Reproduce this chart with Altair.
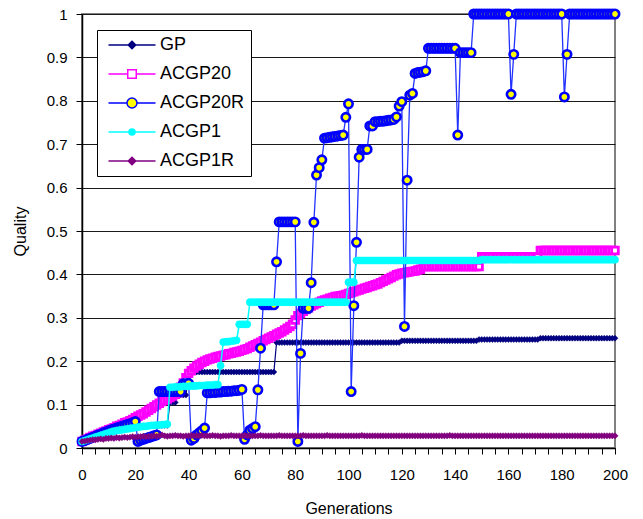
import altair as alt
import pandas as pd

generations = list(range(201))

series_names = ["GP", "ACGP20", "ACGP20R", "ACGP1", "ACGP1R"]

gp = [
    0.015, 0.018, 0.020, 0.022, 0.025, 0.027, 0.030, 0.032, 0.034, 0.036,
    0.038, 0.040, 0.042, 0.044, 0.046, 0.047, 0.048, 0.049, 0.050, 0.050,
    0.050, 0.050, 0.050, 0.050, 0.050, 0.051, 0.051, 0.051, 0.051, 0.052,
    0.052, 0.052, 0.052, 0.105, 0.105, 0.105, 0.122, 0.122, 0.122, 0.122,
    0.175, 0.175, 0.175, 0.175, 0.175, 0.175, 0.175, 0.175, 0.175, 0.175,
    0.175, 0.175, 0.175, 0.175, 0.175, 0.175, 0.175, 0.175, 0.175, 0.175,
    0.175, 0.175, 0.175, 0.175, 0.175, 0.175, 0.175, 0.175, 0.175, 0.175,
    0.175, 0.175, 0.175, 0.243, 0.243, 0.243, 0.243, 0.243, 0.243, 0.243,
    0.243, 0.243, 0.243, 0.243, 0.243, 0.243, 0.243, 0.243, 0.243, 0.243,
    0.243, 0.243, 0.243, 0.243, 0.243, 0.243, 0.243, 0.243, 0.243, 0.243,
    0.243, 0.243, 0.243, 0.243, 0.243, 0.243, 0.243, 0.243, 0.243, 0.243,
    0.243, 0.243, 0.243, 0.243, 0.243, 0.243, 0.243, 0.243, 0.243, 0.243,
    0.247, 0.247, 0.247, 0.247, 0.247, 0.247, 0.247, 0.247, 0.247, 0.247,
    0.247, 0.247, 0.247, 0.247, 0.247, 0.247, 0.247, 0.247, 0.247, 0.247,
    0.247, 0.247, 0.247, 0.247, 0.247, 0.247, 0.247, 0.247, 0.247, 0.250,
    0.250, 0.250, 0.250, 0.250, 0.250, 0.250, 0.250, 0.250, 0.250, 0.250,
    0.250, 0.250, 0.250, 0.250, 0.250, 0.250, 0.250, 0.250, 0.250, 0.250,
    0.250, 0.250, 0.253, 0.253, 0.253, 0.253, 0.253, 0.253, 0.253, 0.253,
    0.253, 0.253, 0.253, 0.253, 0.253, 0.253, 0.253, 0.253, 0.253, 0.253,
    0.253, 0.253, 0.253, 0.253, 0.253, 0.253, 0.253, 0.253, 0.253, 0.253,
    0.253,
]

acgp20 = [
    0.015, 0.018, 0.021, 0.024, 0.027, 0.029, 0.032, 0.034, 0.037, 0.039,
    0.042, 0.044, 0.047, 0.050, 0.052, 0.055, 0.058, 0.060, 0.063, 0.066,
    0.070, 0.073, 0.076, 0.079, 0.083, 0.087, 0.091, 0.095, 0.099, 0.103,
    0.107, 0.110, 0.113, 0.116, 0.120, 0.124, 0.128, 0.140, 0.150, 0.162,
    0.172, 0.178, 0.184, 0.189, 0.193, 0.197, 0.200, 0.203, 0.205, 0.207,
    0.209, 0.211, 0.212, 0.214, 0.215, 0.217, 0.218, 0.220, 0.221, 0.223,
    0.225, 0.227, 0.229, 0.232, 0.235, 0.238, 0.241, 0.244, 0.247, 0.250,
    0.253, 0.256, 0.259, 0.262, 0.265, 0.268, 0.272, 0.276, 0.280, 0.285,
    0.295, 0.305, 0.310, 0.315, 0.319, 0.323, 0.327, 0.330, 0.333, 0.336,
    0.339, 0.341, 0.343, 0.345, 0.347, 0.349, 0.350, 0.351, 0.352, 0.354,
    0.356, 0.358, 0.360, 0.362, 0.364, 0.366, 0.368, 0.370, 0.372, 0.374,
    0.376, 0.378, 0.381, 0.384, 0.387, 0.390, 0.393, 0.396, 0.399, 0.401,
    0.403, 0.404, 0.405, 0.406, 0.407, 0.408, 0.410, 0.412, 0.418, 0.418,
    0.418, 0.418, 0.418, 0.418, 0.418, 0.418, 0.418, 0.418, 0.418, 0.418,
    0.418, 0.418, 0.418, 0.418, 0.418, 0.418, 0.418, 0.418, 0.418, 0.418,
    0.441, 0.441, 0.441, 0.441, 0.441, 0.441, 0.441, 0.441, 0.441, 0.441,
    0.441, 0.441, 0.441, 0.441, 0.441, 0.441, 0.441, 0.441, 0.441, 0.441,
    0.441, 0.441, 0.455, 0.455, 0.455, 0.455, 0.455, 0.455, 0.455, 0.455,
    0.455, 0.455, 0.455, 0.455, 0.455, 0.455, 0.455, 0.455, 0.455, 0.455,
    0.455, 0.455, 0.455, 0.455, 0.455, 0.455, 0.455, 0.455, 0.455, 0.455,
    0.455,
]

acgp20r = [
    0.015, 0.017, 0.020, 0.022, 0.025, 0.027, 0.030, 0.032, 0.035, 0.037,
    0.040, 0.042, 0.044, 0.046, 0.048, 0.050, 0.052, 0.054, 0.056, 0.058,
    0.061, 0.015, 0.018, 0.020, 0.022, 0.024, 0.026, 0.028, 0.030, 0.130,
    0.130, 0.130, 0.130, 0.130, 0.130, 0.130, 0.130, 0.130, 0.148, 0.148,
    0.149, 0.018, 0.022, 0.030, 0.035, 0.040, 0.046, 0.127, 0.127, 0.128,
    0.128, 0.129, 0.129, 0.130, 0.130, 0.131, 0.131, 0.132, 0.132, 0.133,
    0.135, 0.020, 0.030, 0.041, 0.045, 0.049, 0.134, 0.230, 0.330, 0.330,
    0.330, 0.330, 0.330, 0.429, 0.521, 0.521, 0.521, 0.521, 0.521, 0.521,
    0.521, 0.015, 0.218, 0.322, 0.322, 0.322, 0.381, 0.520, 0.629, 0.646,
    0.664, 0.714, 0.715, 0.716, 0.717, 0.718, 0.719, 0.720, 0.721, 0.762,
    0.793, 0.130, 0.328, 0.474, 0.670, 0.688, 0.688, 0.688, 0.742, 0.742,
    0.752, 0.752, 0.753, 0.753, 0.754, 0.755, 0.756, 0.757, 0.763, 0.788,
    0.798, 0.280, 0.617, 0.813, 0.817, 0.863, 0.865, 0.866, 0.867, 0.869,
    0.921, 0.921, 0.921, 0.921, 0.921, 0.921, 0.921, 0.921, 0.921, 0.921,
    0.921, 0.721, 0.911, 0.911, 0.911, 0.911, 0.911, 1.000, 1.000, 1.000,
    1.000, 1.000, 1.000, 1.000, 1.000, 1.000, 1.000, 1.000, 1.000, 1.000,
    1.000, 0.815, 0.907, 1.000, 1.000, 1.000, 1.000, 1.000, 1.000, 1.000,
    1.000, 1.000, 1.000, 1.000, 1.000, 1.000, 1.000, 1.000, 1.000, 1.000,
    1.000, 0.809, 0.907, 1.000, 1.000, 1.000, 1.000, 1.000, 1.000, 1.000,
    1.000, 1.000, 1.000, 1.000, 1.000, 1.000, 1.000, 1.000, 1.000, 1.000,
    1.000,
]

acgp1 = [
    0.015, 0.017, 0.019, 0.021, 0.023, 0.025, 0.027, 0.029, 0.031, 0.033,
    0.035, 0.037, 0.039, 0.040, 0.041, 0.042, 0.043, 0.044, 0.045, 0.046,
    0.047, 0.048, 0.049, 0.050, 0.050, 0.051, 0.052, 0.052, 0.053, 0.053,
    0.054, 0.054, 0.055, 0.140, 0.140, 0.141, 0.141, 0.141, 0.142, 0.142,
    0.142, 0.143, 0.143, 0.143, 0.144, 0.144, 0.144, 0.145, 0.145, 0.145,
    0.146, 0.146, 0.190, 0.244, 0.245, 0.245, 0.246, 0.247, 0.248, 0.285,
    0.285, 0.285, 0.285, 0.336, 0.336, 0.336, 0.336, 0.336, 0.336, 0.336,
    0.336, 0.336, 0.336, 0.336, 0.336, 0.336, 0.336, 0.336, 0.336, 0.336,
    0.336, 0.336, 0.336, 0.336, 0.336, 0.336, 0.336, 0.336, 0.336, 0.336,
    0.336, 0.336, 0.336, 0.336, 0.336, 0.336, 0.336, 0.336, 0.336, 0.336,
    0.382, 0.382, 0.382, 0.432, 0.432, 0.432, 0.432, 0.432, 0.432, 0.432,
    0.432, 0.432, 0.432, 0.432, 0.432, 0.432, 0.432, 0.432, 0.432, 0.432,
    0.432, 0.432, 0.432, 0.432, 0.432, 0.432, 0.432, 0.432, 0.432, 0.432,
    0.432, 0.432, 0.432, 0.432, 0.432, 0.432, 0.432, 0.432, 0.432, 0.432,
    0.432, 0.432, 0.432, 0.432, 0.432, 0.432, 0.432, 0.432, 0.432, 0.432,
    0.434, 0.434, 0.434, 0.434, 0.434, 0.434, 0.434, 0.434, 0.434, 0.434,
    0.434, 0.434, 0.434, 0.434, 0.434, 0.434, 0.434, 0.434, 0.434, 0.434,
    0.434, 0.434, 0.434, 0.434, 0.434, 0.434, 0.434, 0.434, 0.434, 0.434,
    0.434, 0.434, 0.434, 0.434, 0.434, 0.434, 0.434, 0.434, 0.434, 0.434,
    0.434, 0.434, 0.434, 0.434, 0.434, 0.434, 0.434, 0.434, 0.434, 0.434,
    0.434,
]

acgp1r = [
    0.015, 0.016, 0.017, 0.018, 0.019, 0.019, 0.020, 0.021, 0.020, 0.022,
    0.022, 0.023, 0.022, 0.024, 0.023, 0.024, 0.025, 0.024, 0.025, 0.026,
    0.025, 0.026, 0.026, 0.027, 0.026, 0.027, 0.027, 0.028, 0.027, 0.028,
    0.030, 0.028, 0.027, 0.028, 0.028, 0.029, 0.028, 0.028, 0.027, 0.028,
    0.028, 0.029, 0.028, 0.028, 0.028, 0.029, 0.028, 0.028, 0.028, 0.029,
    0.028, 0.028, 0.027, 0.028, 0.028, 0.028, 0.029, 0.028, 0.028, 0.028,
    0.028, 0.029, 0.028, 0.028, 0.028, 0.028, 0.028, 0.029, 0.028, 0.028,
    0.028, 0.028, 0.028, 0.028, 0.029, 0.028, 0.028, 0.028, 0.028, 0.028,
    0.028, 0.028, 0.028, 0.029, 0.028, 0.028, 0.028, 0.028, 0.028, 0.028,
    0.028, 0.028, 0.029, 0.028, 0.028, 0.028, 0.028, 0.028, 0.028, 0.028,
    0.028, 0.028, 0.028, 0.028, 0.028, 0.029, 0.028, 0.028, 0.028, 0.028,
    0.028, 0.028, 0.028, 0.028, 0.028, 0.028, 0.028, 0.028, 0.028, 0.028,
    0.028, 0.028, 0.028, 0.028, 0.028, 0.028, 0.028, 0.028, 0.028, 0.028,
    0.028, 0.028, 0.028, 0.028, 0.028, 0.028, 0.028, 0.028, 0.029, 0.028,
    0.028, 0.028, 0.028, 0.028, 0.028, 0.028, 0.028, 0.028, 0.028, 0.028,
    0.028, 0.028, 0.028, 0.028, 0.028, 0.028, 0.028, 0.028, 0.028, 0.028,
    0.028, 0.028, 0.028, 0.028, 0.028, 0.028, 0.028, 0.028, 0.028, 0.028,
    0.028, 0.028, 0.028, 0.028, 0.028, 0.028, 0.028, 0.028, 0.028, 0.028,
    0.028, 0.028, 0.028, 0.028, 0.028, 0.028, 0.028, 0.028, 0.028, 0.028,
    0.028, 0.028, 0.028, 0.028, 0.028, 0.028, 0.028, 0.028, 0.028, 0.028,
    0.028,
]

y_ticks = [0, 0.1, 0.2, 0.3, 0.4, 0.5, 0.6, 0.7, 0.8, 0.9, 1]
x_ticks = list(range(0, 201, 5))

all_values = [gp, acgp20, acgp20r, acgp1, acgp1r]
df = pd.concat(
    [pd.DataFrame({"gen": generations, "value": vals, "series": name})
     for name, vals in zip(series_names, all_values)],
    ignore_index=True,
)

FONT = "Liberation Sans"

X = alt.X(
    "gen:Q",
    scale=alt.Scale(domain=[0, 200], nice=False, zero=False),
    axis=alt.Axis(
        values=x_ticks,
        labelExpr="datum.value % 20 == 0 ? datum.label : ''",
        title="Generations", grid=False, tickSize=6, labelPadding=13,
        labelFontSize=15, labelOverlap=False, labelFlush=False,
        domainColor="black", tickColor="black", labelColor="black",
        domainWidth=1.5, titleFontSize=16, titleFontWeight="normal",
        titleColor="black", titleX=266.5, titleY=60,
        titleBaseline="middle", titleAlign="center",
    ),
)
Y = alt.Y(
    "value:Q",
    scale=alt.Scale(domain=[0, 1], nice=False),
    axis=alt.Axis(
        values=y_ticks, format="~g", title="Quality", grid=True,
        gridColor="#1a1a1a", gridWidth=1, tickSize=6, labelPadding=9,
        labelFontSize=15, domainColor="black", tickColor="black",
        labelColor="black", domainWidth=1.5, titleFontSize=16,
        titleFontWeight="normal", titleColor="black", titleX=-62,
        titleY=217, titleAngle=270, titleBaseline="middle",
        titleAlign="center",
    ),
)

base = alt.Chart(df).encode(x=X, y=Y)

styles = {
    "GP": dict(line="#000080", lw=1.2, shape="diamond", size=36,
               fill="#000080", stroke="#000080", sw=0.5),
    "ACGP20": dict(line="#FF00FF", lw=1.5, shape="square", size=44,
                   fill="#FFFFFF", stroke="#FF00FF", sw=2.8),
    "ACGP20R": dict(line="#2233FF", lw=1.3, shape="circle", size=70,
                    fill="#FFFF00", stroke="#0000FF", sw=2.6),
    "ACGP1": dict(line="#00FFFF", lw=1.5, shape="circle", size=52,
                  fill="#00FFFF", stroke="#00FFFF", sw=0.5),
    "ACGP1R": dict(line="#800080", lw=1.2, shape="diamond", size=40,
                   fill="#800080", stroke="#800080", sw=0.5),
}

layers = []
for name in series_names:
    s = styles[name]
    sub = base.transform_filter(alt.datum.series == name)
    layers.append(sub.mark_line(color=s["line"], strokeWidth=s["lw"]))
    layers.append(sub.mark_point(shape=s["shape"], size=s["size"], filled=True,
                                 fill=s["fill"], stroke=s["stroke"],
                                 strokeWidth=s["sw"], opacity=1))

legend_paths = [
    "M-4.7,0H4.7M0,-0.75L0.75,0L0,0.75L-0.75,0Z",
    "M-4.7,0H-0.85M0.85,0H4.7M-0.85,-0.85H0.85V0.85H-0.85Z",
    "M-4.7,0H-1M1,0H4.7M-1,0A1,1,0,1,1,1,0A1,1,0,1,1,-1,0Z",
    "M-4.7,0H4.7M-0.6,0A0.6,0.6,0,1,1,0.6,0A0.6,0.6,0,1,1,-0.6,0Z",
    "M-4.7,0H4.7M0,-0.75L0.75,0L0,0.75L-0.75,0Z",
]
legend_strokes = ["#000080", "#FF00FF", "#0000FF", "#00FFFF", "#800080"]
legend_fills = ["#000080", "#FFFFFF", "#FFFF00", "#00FFFF", "#800080"]

leg = alt.Legend(
    title=None, orient="none", legendX=15, legendY=16, padding=6,
    symbolSize=100, symbolStrokeWidth=1.5, symbolOffset=20, labelOffset=19,
    labelFontSize=18, labelFont=FONT, labelColor="black", rowPadding=11,
    strokeColor="black", fillColor="white", labelLimit=300, symbolOpacity=1,
)

legend_layer = base.transform_filter("datum.gen < 0").mark_point(
    filled=True, opacity=1, strokeWidth=1.5
).encode(
    shape=alt.Shape("series:N", scale=alt.Scale(domain=series_names, range=legend_paths), legend=leg),
    stroke=alt.Stroke("series:N", scale=alt.Scale(domain=series_names, range=legend_strokes), legend=leg),
    fill=alt.Fill("series:N", scale=alt.Scale(domain=series_names, range=legend_fills), legend=leg),
)

chart = alt.layer(*layers, legend_layer).properties(
    width=533, height=434,
    padding={"left": 82, "top": 14, "right": 28, "bottom": 71},
    autosize="none",
    background="white",
).configure(font=FONT).configure_view(
    stroke="#808080", strokeWidth=2
)

chart.save("out.html", embed_options={"renderer": "svg", "actions": False})
